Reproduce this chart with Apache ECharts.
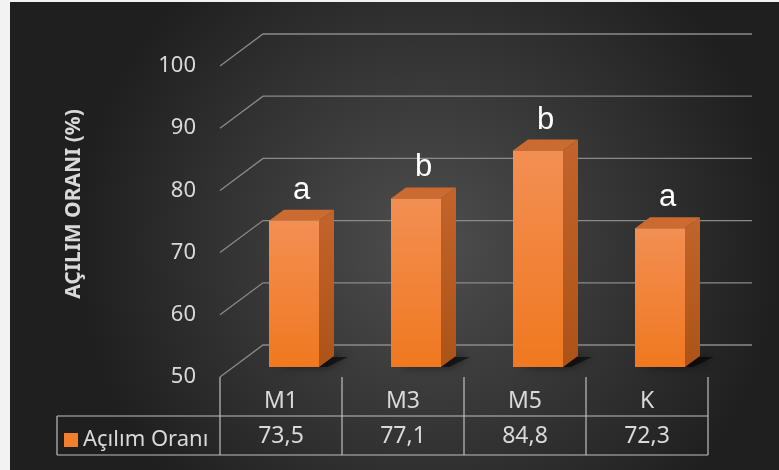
<!DOCTYPE html>
<html>
<head>
<meta charset="utf-8">
<script src="https://cdn.jsdelivr.net/npm/echarts@6/dist/echarts.min.js"></script>
<style>
html,body{margin:0;padding:0;background:#f2f2f2;}
#chart{width:779px;height:470px;}
</style>
</head>
<body>
<div id="chart"></div>
<script>
const categories = ['M1', 'M3', 'M5', 'K'];
const values = [73.5, 77.1, 84.8, 72.3];
const letters = ['a', 'b', 'b', 'a'];
const yTicks = [50, 60, 70, 80, 90, 100];
const seriesName = 'Açılım Oranı';
const axisTitle = 'AÇILIM ORANI (%)';

const FONT = '"Noto Sans", "Open Sans", sans-serif';
const TXT = '#d9d9d9';
const DEPTH_X = 43, DEPTH_Y = -32;      // wall depth
const BAR_DX = 15, BAR_DY = -11;        // bar depth
const BAR_W = 50;

const chart = echarts.init(document.getElementById('chart'), null, {renderer: 'canvas'});

const option = {
  animation: false,
  backgroundColor: {
    type: 'radial', x: 0.55, y: 0.52, r: 0.75,
    colorStops: [{offset: 0, color: '#4e4e4e'}, {offset: 1, color: '#1f1f1f'}]
  },
  grid: [
    {left: 220, top: 66, width: 488, height: 311},
    {left: 233, top: 56, width: 488, height: 311}
  ],
  xAxis: [
    {gridIndex: 0, type: 'category', data: categories,
     axisLine: {show: false}, axisTick: {show: false}, splitLine: {show: false},
     axisLabel: {color: TXT, fontSize: 23, fontFamily: FONT, margin: 13}},
    {gridIndex: 1, type: 'category', data: categories, show: false}
  ],
  yAxis: [
    {gridIndex: 0, type: 'value', min: 50, max: 100, interval: 10,
     axisLine: {show: false}, axisTick: {show: false}, splitLine: {show: false},
     axisLabel: {color: TXT, fontSize: 22, fontFamily: FONT, margin: 24, padding: [5, 0, 0, 0]}},
    {gridIndex: 1, type: 'value', min: 50, max: 100, show: false, splitLine: {show: false}}
  ],
  legend: {
    show: true, left: 64, top: 429, padding: 0, icon: 'rect',
    itemWidth: 14, itemHeight: 14,
    textStyle: {color: TXT, fontSize: 22, fontFamily: FONT},
    data: [seriesName], selectedMode: false
  },
  graphic: [
    {type: 'rect', z: 100, shape: {x: 0, y: 0, width: 10, height: 470}, style: {fill: '#f2f2f2'}},
    {type: 'rect', z: 100, shape: {x: 0, y: 0, width: 779, height: 2}, style: {fill: '#f2f2f2'}},
    {type: 'text', x: 74, y: 204, rotation: Math.PI / 2,
     style: {text: axisTitle, fill: TXT, font: 'bold 21px "Noto Sans", sans-serif',
             align: 'center', verticalAlign: 'middle'}},
    {type: 'polyline', shape: {points: [[57, 416], [220, 416]]}, style: {stroke: '#bfbfbf', lineWidth: 1.2, fill: null}},
    {type: 'polyline', shape: {points: [[57, 455], [220, 455]]}, style: {stroke: '#bfbfbf', lineWidth: 1.2, fill: null}},
    {type: 'polyline', shape: {points: [[57, 416], [57, 455]]}, style: {stroke: '#bfbfbf', lineWidth: 1.2, fill: null}}
  ],
  series: [
    {
      type: 'custom', name: 'grid', xAxisIndex: 0, yAxisIndex: 0, silent: true, z: 1,
      data: yTicks.map(v => [0, v]),
      renderItem: function (params, api) {
        const p = api.coord([0, api.value(1)]);
        const band = api.size([1, 0])[0];
        const xl = p[0] - band / 2;
        return {
          type: 'polyline',
          shape: {points: [[xl, p[1]], [xl + DEPTH_X, p[1] + DEPTH_Y], [752, p[1] + DEPTH_Y]]},
          style: {stroke: '#8a8a8a', lineWidth: 1.3, fill: null}
        };
      }
    },
    {
      type: 'custom', name: 'table', xAxisIndex: 0, yAxisIndex: 0, silent: true, z: 1,
      data: values.map((v, i) => [i, v]),
      renderItem: function (params, api) {
        const i = api.value(0);
        const c = api.coord([i, 50]);
        const band = api.size([1, 0])[0];
        const xl = c[0] - band / 2, xr = c[0] + band / 2;
        const y0 = c[1], y1 = c[1] + 39, y2 = c[1] + 78;
        const ls = {stroke: '#bfbfbf', lineWidth: 1.2, fill: null};
        const ch = [
          {type: 'line', shape: {x1: xl, y1: y0, x2: xl, y2: y2}, style: ls},
          {type: 'line', shape: {x1: xl, y1: y1, x2: xr, y2: y1}, style: ls},
          {type: 'line', shape: {x1: xl, y1: y2, x2: xr, y2: y2}, style: ls},
          {type: 'text', x: c[0], y: (y1 + y2) / 2 + 1,
           style: {text: String(api.value(1)).replace('.', ','), fill: TXT,
                   font: '23px "Noto Sans", sans-serif',
                   align: 'center', verticalAlign: 'middle'}}
        ];
        if (params.dataIndex === values.length - 1) {
          ch.push({type: 'line', shape: {x1: xr, y1: y0, x2: xr, y2: y2}, style: ls});
        }
        return {type: 'group', children: ch};
      }
    },
    {
      type: 'custom', name: seriesName, xAxisIndex: 1, yAxisIndex: 1, z: 3,
      itemStyle: {color: '#f07f2e'},
      data: values.map((v, i) => [i, v]),
      renderItem: function (params, api) {
        const i = api.value(0);
        const top = api.coord([i, api.value(1)]);
        const base = api.coord([i, 50]);
        const x0 = top[0] - BAR_W / 2, x1 = top[0] + BAR_W / 2;
        const yt = top[1], yb = base[1];
        const dx = BAR_DX, dy = BAR_DY;
        return {
          type: 'group',
          children: [
            {type: 'polygon', z2: 0,
             shape: {points: [[x0 + 8, yb], [x1 + 8, yb], [x1 + dx + 14, yb + dy + 1], [x0 + dx + 10, yb + dy + 1]]},
             style: {fill: 'rgba(0,0,0,0.55)', shadowBlur: 10, shadowColor: 'rgba(0,0,0,0.9)'}},
            {type: 'polygon', z2: 1,
             shape: {points: [[x1, yt], [x1 + dx, yt + dy], [x1 + dx, yb + dy], [x1, yb]]},
             style: {fill: new echarts.graphic.LinearGradient(0, 0, 0, 1, [
               {offset: 0, color: '#c2642b'}, {offset: 1, color: '#ad5318'}])}},
            {type: 'polygon', z2: 1,
             shape: {points: [[x0, yt], [x1, yt], [x1 + dx, yt + dy], [x0 + dx, yt + dy]]},
             style: {fill: '#cc6b30'}},
            {type: 'rect', z2: 2,
             shape: {x: x0, y: yt, width: BAR_W, height: yb - yt},
             style: {fill: new echarts.graphic.LinearGradient(0, 0, 0, 1, [
               {offset: 0, color: '#f28f53'}, {offset: 1, color: '#f07820'}])}},
            {type: 'text', z2: 3, x: top[0] + dx / 2, y: yt - 15,
             style: {text: letters[i], fill: '#ffffff',
                     font: '31px "Liberation Sans", Arial, sans-serif',
                     align: 'center', verticalAlign: 'bottom'}}
          ]
        };
      }
    }
  ]
};
chart.setOption(option);
</script>
</body>
</html>
